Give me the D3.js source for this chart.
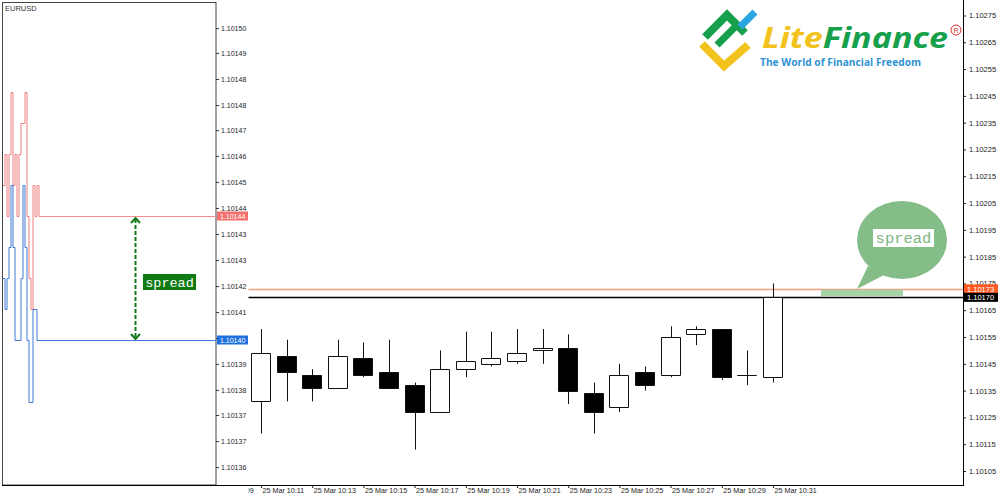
<!DOCTYPE html>
<html>
<head>
<meta charset="utf-8">
<script src="https://cdn.jsdelivr.net/npm/d3@7"></script>
<style>
  body { margin: 0; background: #fff; }
  svg { display: block; font-family: "Liberation Sans", Arial, sans-serif; }
</style>
</head>
<body>
<div id="chart"></div>
<script>
// EURUSD M1 candles, 25 Mar 10:11 .. 10:31
var times  = ["10:11","10:12","10:13","10:14","10:15","10:16","10:17","10:18","10:19","10:20","10:21",
              "10:22","10:23","10:24","10:25","10:26","10:27","10:28","10:29","10:30","10:31"];
var opens  = [1.10131,1.10148,1.10141,1.10136,1.10147,1.10142,1.10137,1.10127,1.10143,1.10145,1.10146,
              1.10150,1.10151,1.10134,1.10129,1.10142,1.10141,1.10156,1.10158,1.10141,1.10140];
var highs  = [1.10158,1.10154,1.10143,1.10154,1.10153,1.10154,1.10138,1.10150,1.10157,1.10157,1.10158,
              1.10158,1.10156,1.10138,1.10145,1.10144,1.10159,1.10159,1.10158,1.10150,1.10175];
var lows   = [1.10119,1.10131,1.10131,1.10136,1.10140,1.10136,1.10113,1.10127,1.10140,1.10144,1.10145,
              1.10145,1.10130,1.10119,1.10127,1.10135,1.10140,1.10152,1.10139,1.10137,1.10138];
var closes = [1.10149,1.10142,1.10136,1.10148,1.10141,1.10136,1.10127,1.10143,1.10146,1.10147,1.10149,
              1.10151,1.10135,1.10127,1.10141,1.10137,1.10155,1.10158,1.10140,1.10141,1.10170];

// tick chart on the left (ask / bid per tick)
var askTicks = [1.10145,1.10146,1.10144,1.10146,1.10148,1.10145,1.10146,1.10144,1.10146,1.10147,
                1.10147,1.10148,1.10144,1.10142,1.10141,1.10145,1.10144,1.10145,1.10144];
var bidTicks = [1.10142,1.10141,1.10142,1.10143,1.10145,1.10143,1.10140,1.10140,1.10140,1.10142,
                1.10145,1.10143,1.10140,1.10138,1.10138,1.10141,1.10141,1.10140,1.10140];
var askPrice = 1.10144, bidPrice = 1.10140;
var askNow = 1.10173, bidNow = 1.10170;

// axis ticks
var bottomTicks = ["10:09","10:11","10:13","10:15","10:17","10:19","10:21","10:23","10:25","10:27","10:29","10:31"];
var rightTicks = [1.10275,1.10265,1.10255,1.10245,1.10235,1.10225,1.10215,1.10205,1.10195,
                  1.10185,1.10175,1.10165,1.10155,1.10145,1.10135,1.10125,1.10115,1.10105];
var leftTickPrices = [1.1015006,1.1014926,1.1014842,1.1014758,1.1014677,1.1014594,1.1014510,1.1014426,1.1014342,
                      1.1014258,1.1014174,1.1014090,1.1014006,1.1013923,1.1013839,1.1013758,1.1013674,1.1013590];
var leftTickLabels = ["1.10150","1.10149","1.10148","1.10148","1.10147","1.10146","1.10145","1.10144","1.10143",
                      "1.10143","1.10142","1.10141","1.10140","1.10139","1.10138","1.10137","1.10137","1.10136"];

var W = 1000, H = 500;
var svg = d3.select("#chart").append("svg").attr("width", W).attr("height", H);

function toDate(s) {
  var p = s.split(":");
  return new Date(2019, 2, 25, +p[0], +p[1]);
}

var candles = times.map(function(t, i) {
  return {t: toDate(t), o: opens[i], h: highs[i], l: lows[i], c: closes[i]};
});

var xT = d3.scaleTime()
  .domain([toDate("10:11"), toDate("10:31")])
  .range([261, 773]);
var yR = d3.scaleLinear().domain([1.10105, 1.10275]).range([471, 15.5]);
var yL = d3.scaleLinear().domain([bidPrice, askPrice]).range([340, 216]);

var axisRightX = 963, axisBottomY = 485, leftEdge = 216;

// ---------- main (right) chart ----------
var main = svg.append("g");

// ask / bid lines
main.append("line")
  .attr("x1", 0).attr("x2", axisRightX)
  .attr("y1", Math.round(yR(askNow)) + 0.5).attr("y2", Math.round(yR(askNow)) + 0.5)
  .attr("stroke", "#f3a07e").attr("stroke-width", 1.3);
main.append("line")
  .attr("x1", 0).attr("x2", axisRightX)
  .attr("y1", Math.round(yR(bidNow)) + 0.5).attr("y2", Math.round(yR(bidNow)) + 0.5)
  .attr("stroke", "#000").attr("stroke-width", 1.3);

// spread highlight
main.append("rect")
  .attr("x", 821).attr("width", 82)
  .attr("y", yR(askNow) + 1).attr("height", yR(bidNow) - yR(askNow) - 1.5)
  .attr("fill", "#a6d3a6");

// wicks
main.selectAll(".wick").data(candles).enter().append("line")
  .attr("class", "wick")
  .attr("x1", d => Math.round(xT(d.t)) + 0.5).attr("x2", d => Math.round(xT(d.t)) + 0.5)
  .attr("y1", d => yR(d.h)).attr("y2", d => yR(d.l))
  .attr("stroke", "#111").attr("stroke-width", 1);

// bodies (path so a doji still shows as a line)
main.selectAll(".body").data(candles).enter().append("path")
  .attr("class", "body")
  .attr("d", function(d) {
    var x = Math.round(xT(d.t)) - 9.5;
    var y = Math.round(yR(Math.max(d.o, d.c))) + 0.5;
    var h = Math.abs(Math.round(yR(d.o)) - Math.round(yR(d.c)));
    return "M" + x + "," + y + "h19v" + h + "h-19Z";
  })
  .attr("fill", d => d.c >= d.o ? "#fff" : "#000")
  .attr("stroke", "#111").attr("stroke-width", 1);

// speech bubble
var bubble = main.append("g");
bubble.append("path")
  .attr("d", "M868,266 L857,289 L884,275 Z")
  .attr("fill", "#85bd89");
bubble.append("ellipse")
  .attr("cx", 902).attr("cy", 240).attr("rx", 45).attr("ry", 39)
  .attr("fill", "#85bd89");
bubble.append("rect")
  .attr("x", 873).attr("y", 229).attr("width", 61).attr("height", 18)
  .attr("fill", "#fff");
bubble.append("text")
  .attr("x", 903.5).attr("y", 243)
  .attr("text-anchor", "middle")
  .attr("font-family", "'Liberation Mono', 'Courier New', monospace")
  .attr("font-size", 15.5)
  .attr("fill", "#7db581")
  .text("spread");

// logo
var logo = main.append("g");
logo.append("path").attr("d", "M702,44 L724,66 L748,45")
  .attr("fill", "none").attr("stroke", "#f2c31c").attr("stroke-width", 8);
logo.append("path").attr("d", "M705,37 L727,15 L745,33")
  .attr("fill", "none").attr("stroke", "#17a04c").attr("stroke-width", 8);
logo.append("path").attr("d", "M717,45 L736,26")
  .attr("fill", "none").attr("stroke", "#17a04c").attr("stroke-width", 7);
logo.append("path").attr("d", "M740,27 L755,12")
  .attr("fill", "none").attr("stroke", "#2aa7e2").attr("stroke-width", 7);
var brand = logo.append("text")
  .attr("x", 762).attr("y", 48)
  .attr("font-family", "'Open Sans', sans-serif")
  .attr("font-weight", 700).attr("font-style", "italic")
  .attr("font-size", 28)
  .attr("textLength", 186).attr("lengthAdjust", "spacingAndGlyphs");
brand.append("tspan").attr("fill", "#f2c31c").text("Lite");
brand.append("tspan").attr("fill", "#17a04c").text("Finance");
logo.append("text")
  .attr("x", 760).attr("y", 66)
  .attr("font-family", "'Open Sans', sans-serif")
  .attr("font-weight", 700).attr("font-size", 11)
  .attr("fill", "#2f93d3")
  .attr("textLength", 161).attr("lengthAdjust", "spacingAndGlyphs")
  .text("The World of Financial Freedom");
logo.append("circle").attr("cx", 956).attr("cy", 30).attr("r", 5)
  .attr("fill", "none").attr("stroke", "#d8312c").attr("stroke-width", 1);
logo.append("text").attr("x", 956).attr("y", 32.5).attr("text-anchor", "middle")
  .attr("font-size", 7).attr("fill", "#d8312c").text("R");

// right price axis
var rAxis = main.append("g")
  .attr("transform", "translate(" + axisRightX + ",0)")
  .call(d3.axisRight(yR).tickValues(rightTicks).tickFormat(d3.format(".5f"))
        .tickSize(3).tickSizeOuter(0).tickPadding(3));
rAxis.select(".domain").remove();
rAxis.selectAll("text").attr("font-size", 7.5).attr("fill", "#222")
  .attr("font-family", "'Liberation Sans', Arial, sans-serif");
rAxis.selectAll("line").attr("stroke", "#222");
main.append("line")
  .attr("x1", axisRightX + 0.5).attr("x2", axisRightX + 0.5)
  .attr("y1", 0).attr("y2", axisBottomY + 0.5)
  .attr("stroke", "#000");

// price tags on the axes
function tag(g, x, y, w, fill, txt, size) {
  g.append("rect").attr("x", x).attr("y", y - 4.5).attr("width", w).attr("height", 9).attr("fill", fill);
  g.append("text").attr("x", x + 3).attr("y", y + 3)
    .attr("font-size", size).attr("fill", "#fff").text(txt);
}
tag(main, axisRightX + 1, yR(askNow), 34, "#ff5a22", d3.format(".5f")(askNow), 7.5);
tag(main, axisRightX + 1, yR(bidNow) + 0.5, 34, "#000", d3.format(".5f")(bidNow), 7.5);

// time axis
var bAxis = main.append("g")
  .attr("transform", "translate(0," + axisBottomY + ")")
  .call(d3.axisBottom(xT).tickValues(bottomTicks.map(toDate))
        .tickFormat(d => "25 Mar " + d3.timeFormat("%H:%M")(d))
        .tickSize(3).tickSizeOuter(0));
bAxis.select(".domain").remove();
bAxis.selectAll("line").attr("stroke", "#222");
bAxis.selectAll("text")
  .attr("text-anchor", "start").attr("x", 1).attr("y", 3)
  .attr("font-size", 7.2).attr("fill", "#222")
  .attr("font-family", "'Liberation Sans', Arial, sans-serif");

// ---------- left tick panel ----------
var left = svg.append("g");
left.append("rect").attr("x", 0).attr("y", 0).attr("width", 248.5).attr("height", H).attr("fill", "#fff");
left.append("rect").attr("x", 2.5).attr("y", 2.5).attr("width", leftEdge - 2.5).attr("height", axisBottomY - 2.5)
  .attr("fill", "none").attr("stroke", "#444");

var xTick = d3.scaleLinear().domain([0, askTicks.length - 1]).range([3, 39]);
var stepLine = d3.line().x((d, i) => xTick(i)).y(d => Math.round(yL(d)) + 0.5).curve(d3.curveStepAfter);

left.append("path").datum(askTicks).attr("d", stepLine)
  .attr("fill", "none").attr("stroke", "#ef7f7f").attr("stroke-width", 1);
left.append("path").datum(bidTicks).attr("d", stepLine)
  .attr("fill", "none").attr("stroke", "#3f7bd6").attr("stroke-width", 1);
left.append("line")
  .attr("x1", xTick(askTicks.length - 1)).attr("x2", leftEdge)
  .attr("y1", Math.round(yL(askPrice)) + 0.5).attr("y2", Math.round(yL(askPrice)) + 0.5)
  .attr("stroke", "#f2908e");
left.append("line")
  .attr("x1", xTick(bidTicks.length - 1)).attr("x2", leftEdge)
  .attr("y1", Math.round(yL(bidPrice)) + 0.5).attr("y2", Math.round(yL(bidPrice)) + 0.5)
  .attr("stroke", "#3f7bd6");

// spread arrow
var ax = 135.5, aTop = yL(askPrice) + 2, aBot = yL(bidPrice) - 1;
left.append("line").attr("x1", ax).attr("x2", ax).attr("y1", aTop + 1).attr("y2", aBot - 1)
  .attr("stroke", "#147a1a").attr("stroke-width", 2).attr("stroke-dasharray", "4,2");
left.append("path").attr("d", "M" + (ax - 4.5) + "," + (aTop + 5) + " L" + ax + "," + aTop + " L" + (ax + 4.5) + "," + (aTop + 5))
  .attr("fill", "none").attr("stroke", "#147a1a").attr("stroke-width", 2);
left.append("path").attr("d", "M" + (ax - 4.5) + "," + (aBot - 5) + " L" + ax + "," + aBot + " L" + (ax + 4.5) + "," + (aBot - 5))
  .attr("fill", "none").attr("stroke", "#147a1a").attr("stroke-width", 2);
left.append("rect").attr("x", 143).attr("y", 274).attr("width", 53).attr("height", 16).attr("fill", "#0d7a12");
left.append("text").attr("x", 169.5).attr("y", 286.5).attr("text-anchor", "middle")
  .attr("font-family", "'Liberation Mono', 'Courier New', monospace")
  .attr("font-size", 13.5).attr("fill", "#fff").text("spread");

// left price axis
var lAxis = left.append("g")
  .attr("transform", "translate(" + leftEdge + ",0)")
  .call(d3.axisRight(yL).tickValues(leftTickPrices).tickFormat((d, i) => leftTickLabels[i])
        .tickSize(3).tickSizeOuter(0).tickPadding(2));
lAxis.select(".domain").remove();
lAxis.selectAll("line").attr("stroke", "#333");
lAxis.selectAll("text").attr("font-size", 7).attr("fill", "#222")
  .attr("font-family", "'Liberation Sans', Arial, sans-serif");

tag(left, leftEdge + 1, yL(askPrice), 31, "#f3706c", d3.format(".5f")(askPrice), 7);
tag(left, leftEdge + 1, yL(bidPrice), 31, "#1f6fdc", d3.format(".5f")(bidPrice), 7);

left.append("text").attr("x", 5).attr("y", 11).attr("font-size", 7.5).attr("fill", "#333").text("EURUSD");

// bottom border across both panels
svg.append("line").attr("x1", 2).attr("x2", axisRightX + 1)
  .attr("y1", axisBottomY + 0.5).attr("y2", axisBottomY + 0.5).attr("stroke", "#000");
</script>
</body>
</html>
